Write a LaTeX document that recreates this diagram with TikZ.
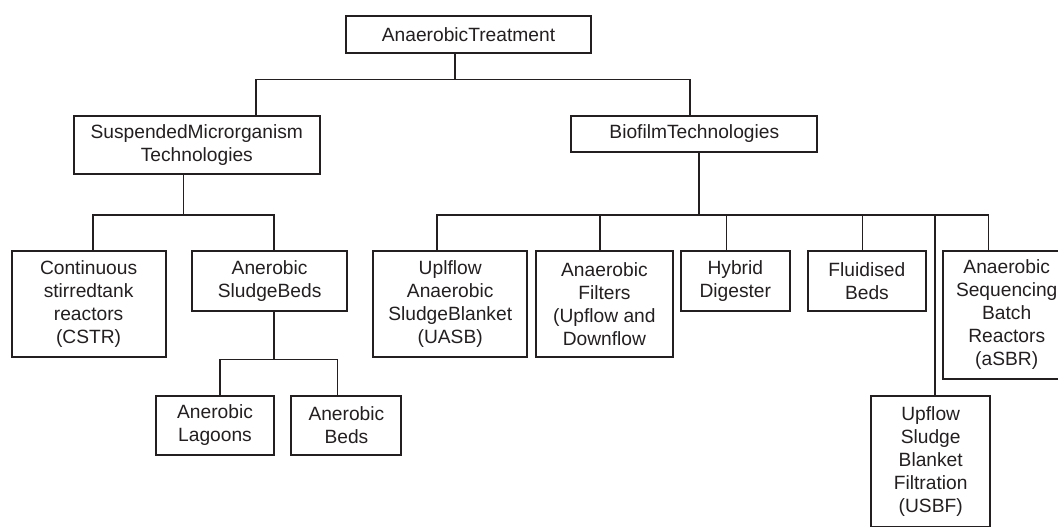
\documentclass[tikz,border=0pt]{standalone}
\usepackage{fontspec}
\setmainfont{Liberation Sans}
\usepackage{xcolor}
\usepackage{tikz}
\usetikzlibrary{positioning}

\definecolor{ink}{HTML}{231F20}

\begin{document}
\begin{tikzpicture}[
    x=0.5pt, y=-0.5pt,
    box/.style={rectangle, draw=ink, line width=1pt, text=ink, inner sep=0pt, align=center, font=\fontsize{9.6}{11.5}\selectfont},
    link/.style={draw=ink, line width=0.8pt}
]
    \useasboundingbox (0,0) rectangle (1058,526);

    % top levels
    \node[box, minimum width=122.75pt, minimum height=18.35pt] (root) at (468.5,34.3) {AnaerobicTreatment};
    \node[box, minimum width=122.75pt, minimum height=29.3pt] (susp) at (196.8,145) {SuspendedMicrorganism\\Technologies};
    \node[box, minimum width=122.9pt, minimum height=18.3pt] (bio) at (694.3,134) {BiofilmTechnologies};

    % suspended branch
    \node[box, minimum width=77.1pt, minimum height=53pt] (cstr) at (88.6,303.7) {Continuous\\stirredtank\\reactors\\(CSTR)};
    \node[box, minimum width=77.6pt, minimum height=30pt] (sludge) at (269.6,280.7) {Anerobic\\SludgeBeds};
    \node[box, minimum width=59.2pt, minimum height=29.65pt] (lagoons) at (215,425.3) {Anerobic\\Lagoons};
    \node[box, minimum width=54.95pt, minimum height=29.65pt] (beds) at (346.4,425.3) {Anerobic\\Beds};

    % biofilm branch
    \node[box, minimum width=77.25pt, minimum height=53pt] (uasb) at (450.2,303.7) {Uplflow\\Anaerobic\\SludgeBlanket\\(UASB)};
    \node[box, minimum width=68.4pt, minimum height=53pt] (filters) at (604.4,303.7) {Anaerobic\\Filters\\(Upflow and\\Downflow};
    \node[box, minimum width=54.75pt, minimum height=30pt] (hybrid) at (735.3,280.7) {Hybrid\\Digester};
    \node[box, minimum width=59.1pt, minimum height=30pt] (fluid) at (866.9,280.7) {Fluidised\\Beds};
    \node[box, minimum width=59.6pt, minimum height=65.65pt] (usbf) at (930.7,461.4) {Upflow\\Sludge\\Blanket\\Filtration\\(USBF)};
    \node[box, minimum width=63.35pt, minimum height=64pt] (asbr) at (1006.7,314.7) {Anaerobic\\Sequencing\\Batch\\Reactors\\(aSBR)};

    % bus points
    \coordinate (rootbus) at (455,79.3);
    \coordinate (suspbus) at (183.6,214.7);
    \coordinate (sludgebus) at (273.8,359.3);
    \coordinate (biobus) at (699,214.7);

    \draw[link] (root.south -| rootbus) -- (rootbus) -| ([shift={(59.1,0)}]susp.north);
    \draw[link] (rootbus) -| ([shift={(-4.3,0)}]bio.north);

    \draw[link] (susp.south -| suspbus) -- (suspbus) -| ([shift={(4.1,0)}]cstr.north);
    \draw[link] (suspbus) -| ([shift={(4.6,0)}]sludge.north);

    \draw[link] (sludge.south -| sludgebus) -- (sludgebus) -| ([shift={(5.1,0)}]lagoons.north);
    \draw[link] (sludgebus) -| ([shift={(-9,0)}]beds.north);

    \draw[link] (bio.south -| biobus) -- (biobus) -| ([shift={(-13.1,0)}]uasb.north);
    \draw[link] (biobus) -| ([shift={(-4.4,0)}]filters.north);
    \draw[link] (biobus) -| ([shift={(-8.7,0)}]hybrid.north);
    \draw[link] (biobus) -| ([shift={(-4.6,0)}]fluid.north);
    \draw[link] (biobus) -| ([shift={(4,0)}]usbf.north);
    \draw[link] (biobus) -| ([shift={(-18.1,0)}]asbr.north);
\end{tikzpicture}
\end{document}
